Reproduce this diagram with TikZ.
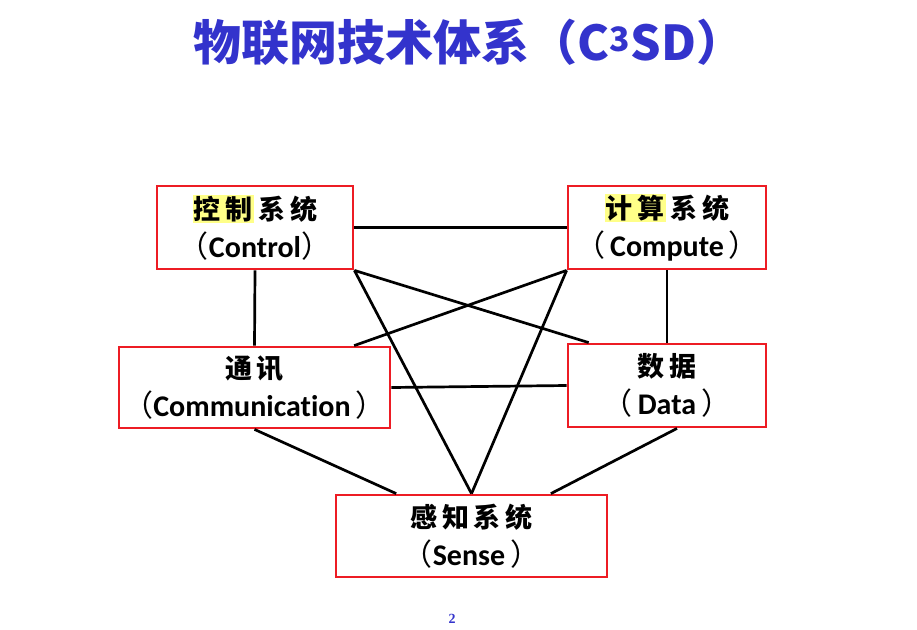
\documentclass[tikz,border=0pt]{standalone}
\usepackage{fontspec}
\usepackage{xcolor}
\usetikzlibrary{calc}
\setmainfont{Carlito}[Ligatures=NoCommon]
\newfontfamily\cjk{Noto Sans CJK SC}
\newfontfamily\pgfont{Liberation Serif}
\definecolor{titleblue}{RGB}{51,51,204}
\definecolor{boxred}{RGB}{237,28,36}
\definecolor{hlyellow}{RGB}{255,255,136}
\newcommand{\hlt}[1]{{\setlength{\fboxsep}{1pt}\colorbox{hlyellow}{#1}}}
\newcommand{\lp}{{\cjk\mdseries （}}
\newcommand{\rp}{{\cjk\mdseries ）}}
\tikzset{
  sysbox/.style={draw=boxred, line width=2.8pt, fill=white, inner sep=0pt,
    align=center, text=black, font=\fontsize{30}{38}\selectfont\bfseries},
  link/.style={draw=black, line width=2.7pt},
  titletext/.style={text=titleblue, font=\cjk\bfseries\fontsize{48}{52}\selectfont},
}
\newcommand{\cjs}{\hspace{5pt}}
\newcommand{\cjf}{\cjk\bfseries\fontsize{27}{38}\selectfont}
\begin{document}
\begin{tikzpicture}[x=1pt,y=-1pt]
\useasboundingbox[fill=white] (0,0) rectangle (917,629);
% boxes
\node[sysbox, minimum width=196pt, minimum height=83pt] (ctl) at (255,227.5)
  {{\cjf\hlt{控\cjs 制}\cjs 系\cjs 统}\\\lp Control\rp};
\node[sysbox, minimum width=198pt, minimum height=83pt] (cmp) at (667,227.5)
  {{\cjf\hlt{计\cjs 算}\cjs 系\cjs 统}\\\lp\,Compute\,\rp};
\node[sysbox, minimum width=271pt, minimum height=81pt] (com) at (254.5,387.5)
  {{\cjf 通\cjs 讯}\\\lp Communication\,\rp};
\node[sysbox, minimum width=198pt, minimum height=83pt] (dat) at (667,385.5)
  {{\cjf 数\cjs 据}\\\lp\,Data\,\rp};
\node[sysbox, minimum width=271pt, minimum height=82pt] (sen) at (471.5,536)
  {{\cjf 感\cjs 知\cjs 系\cjs 统}\\\lp Sense\,\rp};
% connectors
\draw[link] (ctl.east) -- (cmp.west);
\draw[link] (ctl.south) -- (com.north);
\draw[link] (cmp.south) -- (dat.north);
\draw[link] (ctl.south east) -- ($(dat.north west)!0.11!(dat.north east)$);
\draw[link] (cmp.south west) -- ($(com.north west)!0.864!(com.north east)$);
\draw[link] (ctl.south east) -- (sen.north);
\draw[link] (cmp.south west) -- (sen.north);
\draw[link] (com.east) -- (dat.west);
\draw[link] (com.south) -- ($(sen.north west)!0.225!(sen.north east)$);
\draw[link] ($(dat.south west)!0.55!(dat.south east)$) -- ($(sen.north west)!0.79!(sen.north east)$);
% title
\node[titletext] (ttl) at (469,42) {物联网技术体系（C\textsuperscript{3}SD）};
\node[text=titleblue, font=\pgfont\bfseries\fontsize{14}{16}\selectfont] (pg) at (452,619) {2};
\end{tikzpicture}
\end{document}
